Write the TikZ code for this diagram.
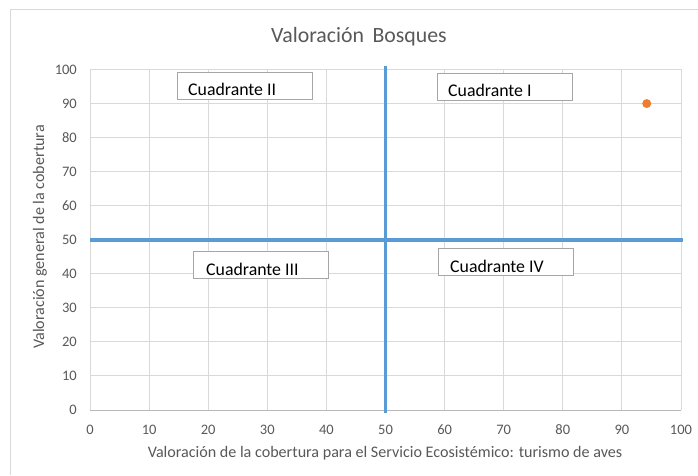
\documentclass[tikz,border=0pt]{standalone}
\usepackage{fontspec}
\setmainfont{Carlito}
\usetikzlibrary{calc}
\definecolor{gridc}{HTML}{D9D9D9}
\definecolor{txtc}{HTML}{595959}
\definecolor{bluec}{HTML}{5B9BD5}
\definecolor{orangec}{HTML}{ED7D31}
\definecolor{boxc}{HTML}{A6A6A6}
\tikzset{
  gridline/.style={draw=gridc, line width=1pt},
  quadline/.style={draw=bluec, line width=3.5pt},
  ticklab/.style={text=txtc, font=\fontsize{14.5}{16}\selectfont, inner sep=0pt},
  axtitle/.style={text=txtc, font=\fontsize{16.1}{18}\selectfont, inner sep=0pt},
  charttitle/.style={text=txtc, font=\fontsize{21.8}{24}\selectfont, inner sep=0pt},
  qbox/.style={draw=boxc, fill=white, line width=1pt, minimum width=135pt, minimum height=27pt, inner sep=0pt},
  qtext/.style={text=black, font=\fontsize{17.8}{20}\selectfont, inner sep=0pt},
  datapt/.style={circle, fill=orangec, minimum size=9pt, inner sep=0pt}
}
\begin{document}
\begin{tikzpicture}[x=1pt,y=1pt]
\useasboundingbox (0,0) rectangle (698,475);
\fill[white] (0,0) rectangle (698,475);
% outer chart border
\coordinate (btl) at (10,465);
\coordinate (btr) at (698,465);
\coordinate (bbl) at (10,0);
\draw[gridc, line width=1pt] (bbl) -- (btl) -- (btr);
% plot area
\begin{scope}[shift={(90,65)}, x=5.91pt, y=3.405pt]
  \foreach \v in {0,10,...,100} {
    \draw[gridline] (\v,0) -- (\v,100);
    \draw[gridline] (0,\v) -- (100,\v);
    \node[ticklab, anchor=east] (yl\v) at (-2.2,\v) {\v};
    \node[ticklab] (xl\v) at (\v,-5.9) {\v};
  }
  \draw[draw=gridc!85!black, line width=1pt] (0,0) -- (100,0);
  % quadrant lines
  \coordinate (vtop) at (50,101);
  \coordinate (vbot) at (50,-0.9);
  \coordinate (hl) at (0,50);
  \coordinate (hr) at (100.3,50);
  \draw[quadline] (vbot) -- (vtop);
  \draw[quadline] (hl) -- (hr);
  % data point
  \node[datapt] (pt) at (94.2,90) {};
\end{scope}
% quadrant boxes
\node[qbox, anchor=north west] (b2) at (177,403) {};
\node[qtext, anchor=base west] (t2) at ($(b2.south west)+(11,4)$) {Cuadrante II};
\node[qbox, anchor=north west] (b1) at (437,402) {};
\node[qtext, anchor=base west] (t1) at ($(b1.south west)+(11,4)$) {Cuadrante I};
\node[qbox, anchor=north west] (b3) at (193,224) {};
\node[qtext, anchor=base west] (t3) at ($(b3.south west)+(13,4)$) {Cuadrante III};
\node[qbox, anchor=north west] (b4) at (438,227) {};
\node[qtext, anchor=base west] (t4) at ($(b4.south west)+(12,4)$) {Cuadrante IV};
% titles
\node[charttitle] (title) at (359,438) {Valoración\, Bosques};
\node[axtitle] (xt) at (385,22) {Valoración de la cobertura para el Servicio Ecosistémico: turismo de aves};
\node[axtitle, rotate=90] (yt) at (40,238) {Valoración general de la cobertura};
\end{tikzpicture}
\end{document}
